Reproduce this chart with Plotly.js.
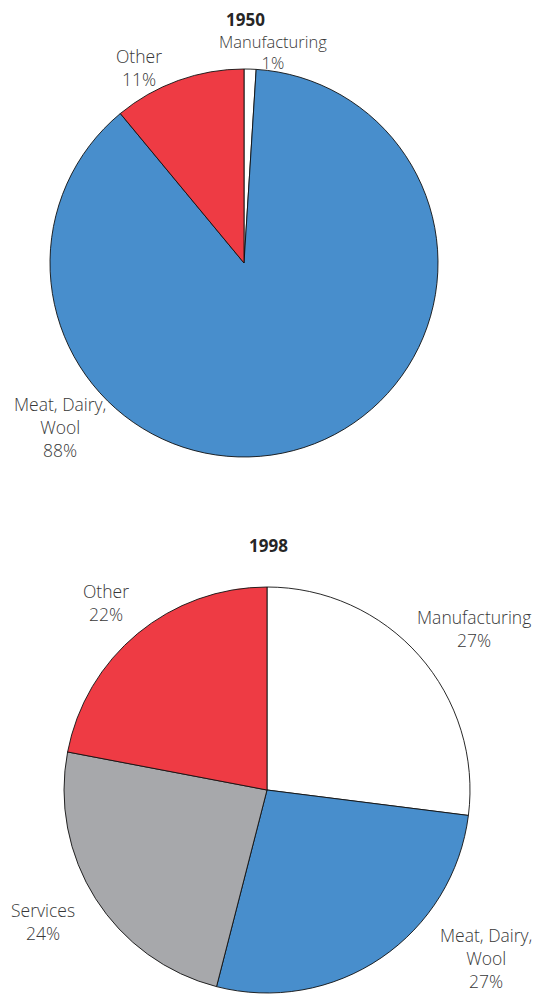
<!DOCTYPE html>
<html><head><meta charset="utf-8">
<script src="https://cdn.plot.ly/plotly-3.0.1.min.js"></script>
<style>html,body{margin:0;padding:0;background:#fff}</style>
</head><body><div id="chart" style="width:539px;height:995px"></div>
<script>
var categories1950 = ["Manufacturing", "Meat, Dairy,<br>Wool", "Other"];
var values1950 = [1, 88, 11];
var colors1950 = ["#ffffff", "#488ecc", "#ee3b44"];

var categories1998 = ["Manufacturing", "Meat, Dairy,<br>Wool", "Services", "Other"];
var values1998 = [27, 27, 24, 22];
var colors1998 = ["#ffffff", "#488ecc", "#a7a8ab", "#ee3b44"];

var titles = ["1950", "1998"];

var W = 539, H = 995;
function px(x){return x / W;}
function py(y){return 1 - y / H;}

var pie1 = {
  type: "pie", labels: categories1950, values: values1950, sort: false,
  direction: "clockwise", rotation: 0, textinfo: "none", hoverinfo: "label+percent",
  marker: {colors: colors1950, line: {color: "#111", width: 0.9}},
  domain: {x: [px(50), px(438)], y: [py(457), py(69)]}, showlegend: false
};
var pie2 = {
  type: "pie", labels: categories1998, values: values1998, sort: false,
  direction: "clockwise", rotation: 0, textinfo: "none", hoverinfo: "label+percent",
  marker: {colors: colors1998, line: {color: "#111", width: 0.9}},
  domain: {x: [px(64), px(470)], y: [py(993), py(587)]}, showlegend: false
};

var labelFont = {family: "Open Sans, Lato, sans-serif", size: 17.5, color: "#383838", weight: 300};
function lab(text, val, x, y, size){
  var f = Object.assign({}, labelFont);
  if (size) f.size = size;
  return {text: text + "<br>" + val + "%", x: px(x), y: py(y), xref: "paper", yref: "paper",
    xanchor: "center", yanchor: "middle", showarrow: false, font: f, align: "center"};
}
var titleFont = {family: "Open Sans, sans-serif", size: 17, color: "#262626", weight: 700};
var annotations = [
  {text: titles[0], x: px(245), y: py(20), xref: "paper", yref: "paper", showarrow: false,
   xanchor: "center", yanchor: "middle", font: titleFont},
  {text: titles[1], x: px(268), y: py(545), xref: "paper", yref: "paper", showarrow: false,
   xanchor: "center", yanchor: "middle", font: titleFont},
  lab(categories1950[0], values1950[0], 273, 52.5, 16.5),
  lab(categories1950[1], values1950[1], 60, 427),
  lab(categories1950[2], values1950[2], 139, 67.5),
  lab(categories1998[0], values1998[0], 474, 628.5),
  lab(categories1998[1], values1998[1], 486, 958),
  lab(categories1998[2], values1998[2], 43, 921),
  lab(categories1998[3], values1998[3], 106, 602)
];

var layout = {
  width: W, height: H, margin: {l: 0, r: 0, t: 0, b: 0},
  paper_bgcolor: "#fff", plot_bgcolor: "#fff",
  annotations: annotations, showlegend: false
};
Plotly.newPlot("chart", [pie1, pie2], layout, {displayModeBar: false, staticPlot: true});
</script>
</body></html>
